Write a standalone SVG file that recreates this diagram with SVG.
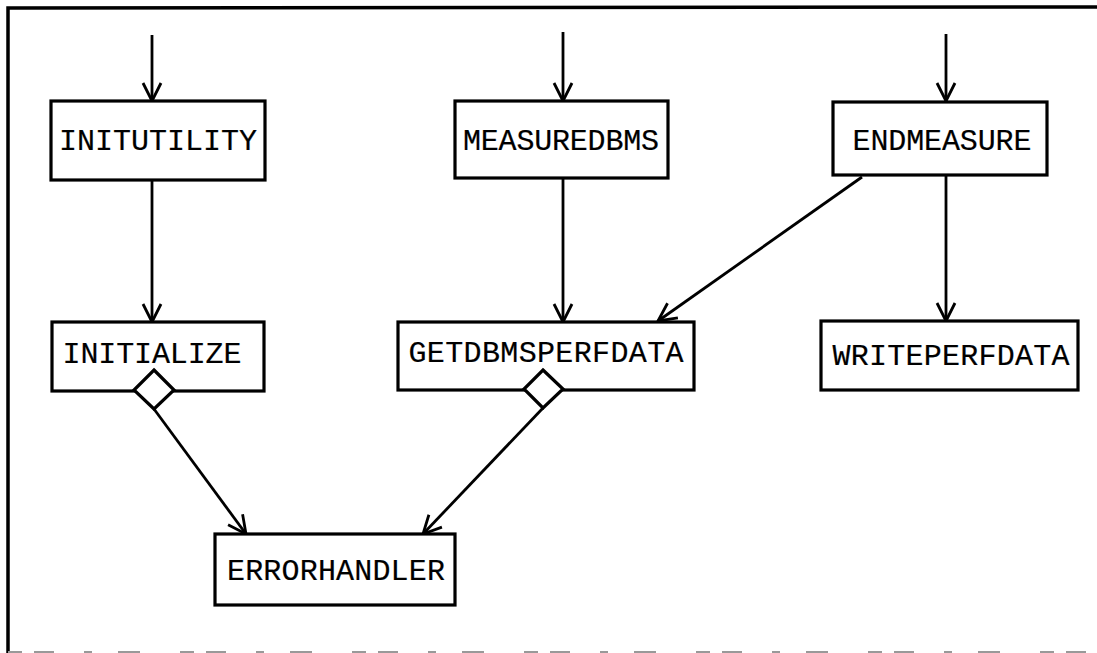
<svg xmlns="http://www.w3.org/2000/svg" width="1097" height="653" viewBox="0 0 1097 653">
  <defs>
    <style>
      .box { fill: #fff; stroke: #000; stroke-width: 3.2; }
      .lbl { font-family: "Liberation Mono", "Courier New", monospace; font-size: 30px; fill: #000; stroke: #000; stroke-width: 0.2; text-anchor: middle; }
      .edge { fill: none; stroke: #000; stroke-width: 2.8; }
      .frame { fill: none; stroke: #000; stroke-width: 3.5; }
      .diamond { fill: #fff; stroke: #000; stroke-width: 3.2; }
    </style>
    <marker id="arrow" viewBox="0 0 22 22" refX="20" refY="11" markerWidth="22" markerHeight="22" markerUnits="userSpaceOnUse" orient="auto">
      <path d="M2,2 L20,11 L2,20" fill="none" stroke="#000" stroke-width="2.8"/>
    </marker>
  </defs>
  <rect width="1097" height="653" fill="#fff"/>

  <!-- page frame -->
  <g id="frame">
    <path class="frame" d="M8,653 L8,8 L1097,7"/>
    <line x1="8" y1="652" x2="1097" y2="652" stroke="#999" stroke-width="2" stroke-dasharray="14,12,20,30,8,26,22,40"/>
  </g>

  <!-- connectors -->
  <g id="connectors">
    <line class="edge" x1="152" y1="35" x2="152" y2="101" marker-end="url(#arrow)"/>
    <line class="edge" x1="563" y1="32" x2="563" y2="101" marker-end="url(#arrow)"/>
    <line class="edge" x1="946" y1="34" x2="946" y2="101" marker-end="url(#arrow)"/>
    <line class="edge" x1="152" y1="180" x2="152" y2="322" marker-end="url(#arrow)"/>
    <line class="edge" x1="563" y1="178" x2="563" y2="322" marker-end="url(#arrow)"/>
    <line class="edge" x1="946" y1="175" x2="946" y2="321" marker-end="url(#arrow)"/>
    <line class="edge" x1="862" y1="177" x2="658" y2="321" marker-end="url(#arrow)"/>
    <line class="edge" x1="154" y1="409" x2="246" y2="534" marker-end="url(#arrow)"/>
    <line class="edge" x1="543" y1="408" x2="423" y2="534" marker-end="url(#arrow)"/>
  </g>

  <g id="initutility">
    <rect class="box" x="51" y="101" width="214" height="79"/>
    <text class="lbl" x="158" y="150" textLength="198" lengthAdjust="spacing">INITUTILITY</text>
  </g>
  <g id="measuredbms">
    <rect class="box" x="455" y="101" width="213" height="77"/>
    <text class="lbl" x="561" y="150" textLength="196" lengthAdjust="spacing">MEASUREDBMS</text>
  </g>
  <g id="endmeasure">
    <rect class="box" x="833" y="102" width="214" height="73"/>
    <text class="lbl" x="942" y="150" textLength="179" lengthAdjust="spacing">ENDMEASURE</text>
  </g>
  <g id="initialize">
    <rect class="box" x="52" y="322" width="212" height="69"/>
    <text class="lbl" x="152" y="363" textLength="179" lengthAdjust="spacing">INITIALIZE</text>
    <polygon class="diamond" points="154,370 174,390 154,409 134,390"/>
  </g>
  <g id="getdbmsperfdata">
    <rect class="box" x="398" y="322" width="296" height="68"/>
    <text class="lbl" x="546" y="362" textLength="275" lengthAdjust="spacing">GETDBMSPERFDATA</text>
    <polygon class="diamond" points="543,370 563,389 543,408 524,389"/>
  </g>
  <g id="writeperfdata">
    <rect class="box" x="821" y="321" width="257" height="69"/>
    <text class="lbl" x="951" y="365" textLength="237" lengthAdjust="spacing">WRITEPERFDATA</text>
  </g>
  <g id="errorhandler">
    <rect class="box" x="215" y="534" width="240" height="71"/>
    <text class="lbl" x="336" y="580" textLength="218" lengthAdjust="spacing">ERRORHANDLER</text>
  </g>
</svg>
